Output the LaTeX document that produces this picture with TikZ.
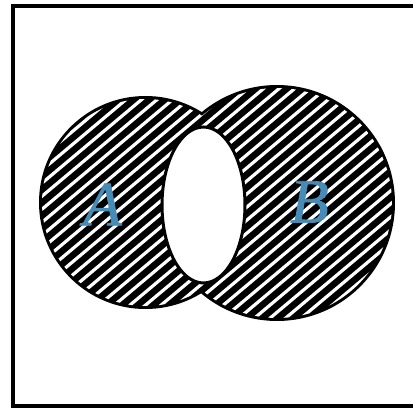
\documentclass[tikz,border=0pt]{standalone}
\usepackage{fontspec}
\setmainfont{Liberation Serif}
\newfontface\setlabelfont[FakeBold=1.2]{Liberation Serif Italic}
\usepackage{xcolor}
\definecolor{setblue}{RGB}{70,140,182}

\begin{document}
\begin{tikzpicture}[x=1pt,y=1pt]
  \useasboundingbox (0,0) rectangle (413,408);
  \coordinate (cA) at (145.5,205.5);
  \coordinate (cB) at (277,205);
  \coordinate (cAB) at (203.5,203);
  % universe
  \draw[line width=4pt] (13,2) rectangle (420,402);
  % outline of A and B, inner half gets covered by the hatching
  \draw[line width=6pt] (cA) circle (103.5) (cB) circle (115);
  \begin{scope}
    \clip (cA) circle (103.5) (cB) circle (115);
    \fill[black] (0,0) rectangle (413,408);
    \foreach \i in {-30,...,30}
      \draw[white, line width=3.2pt, rotate around={40:(205,205)}] (-200,205+10*\i) -- (610,205+10*\i);
  \end{scope}
  % intersection left blank
  \draw[line width=3pt, fill=white] (cAB) ellipse [x radius=41.5, y radius=78];
  \node (labA) [inner sep=0pt, text=setblue] at (102.5,203.5) {\fontsize{63}{63}\setlabelfont A};
  \node (labB) [inner sep=0pt, text=setblue] at (309.5,206) {\fontsize{63}{63}\setlabelfont B};
\end{tikzpicture}
\end{document}
